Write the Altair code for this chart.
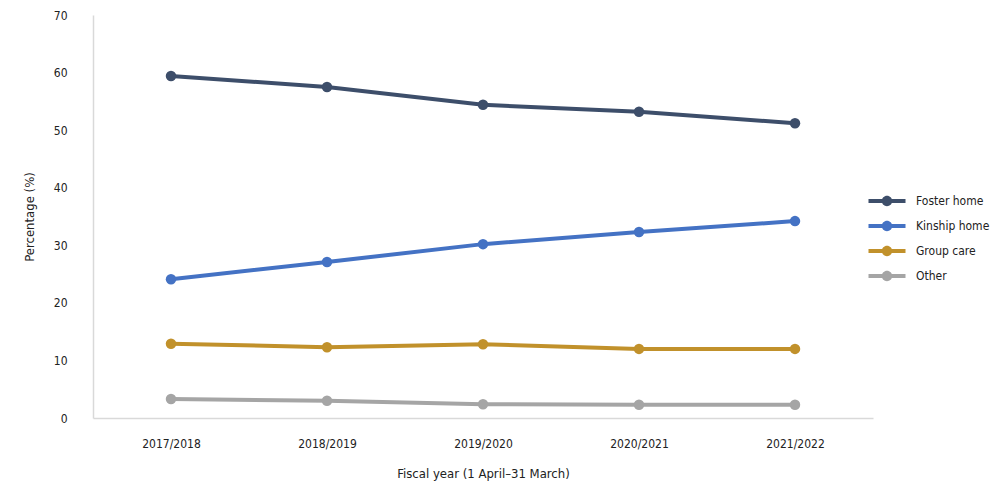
import altair as alt
import pandas as pd

years = ["2017/2018", "2018/2019", "2019/2020", "2020/2021", "2021/2022"]
series = ["Foster home", "Kinship home", "Group care", "Other"]
foster = [59.4, 57.5, 54.4, 53.2, 51.2]
kinship = [24.1, 27.1, 30.2, 32.3, 34.2]
group = [12.9, 12.3, 12.8, 12.0, 12.0]
other = [3.3, 3.0, 2.4, 2.3, 2.3]
colors = ["#3d4e6a", "#4472c4", "#c1912b", "#a5a5a5"]

rows = []
for name, vals in zip(series, [foster, kinship, group, other]):
    for y, v in zip(years, vals):
        rows.append({"year": y, "type": name, "value": v})
df = pd.DataFrame(rows)

FONT = "DejaVu Sans Condensed"
sym = ("M-1,-0.11H1V0.11H-1Z "
       "M-0.28,0A0.28,0.28 0 1,1 0.28,0A0.28,0.28 0 1,1 -0.28,0Z")

chart = alt.Chart(df).mark_line(
    strokeWidth=4,
    point=alt.OverlayMarkDef(filled=True, size=110, opacity=1),
).encode(
    x=alt.X("year:N", sort=years, scale=alt.Scale(paddingOuter=0.5),
            axis=alt.Axis(title="Fiscal year (1 April\u201331 March)", labelAngle=0,
                          ticks=False, labelPadding=20, titlePadding=18,
                          domainColor="#d9d9d9", domainWidth=1.5)),
    y=alt.Y("value:Q", scale=alt.Scale(domain=[0, 70]),
            axis=alt.Axis(title="Percentage (%)", values=list(range(0, 71, 10)),
                          ticks=False, grid=False, labelPadding=26, titlePadding=17,
                          domainColor="#d9d9d9", domainWidth=1.5)),
    color=alt.Color("type:N", scale=alt.Scale(domain=series, range=colors),
                    legend=alt.Legend(title=None, orient="none", legendX=775, legendY=167,
                                      symbolType=sym, symbolSize=1369,
                                      symbolStrokeWidth=0.01, symbolFillColor="#3d4e6a",
                                      labelOffset=10, rowPadding=-11)),
).properties(
    width=780, height=403,
    autosize=alt.AutoSizeParams(type="none"),
    padding={"left": 85, "top": 7, "right": 119, "bottom": 73},
).configure_view(stroke=None).configure_axis(
    labelFont=FONT, titleFont=FONT, labelFontSize=12, titleFontSize=13,
    labelColor="#222222", titleColor="#222222", titleFontWeight="normal",
).configure_legend(
    labelFont=FONT, labelFontSize=12, labelColor="#222222", labelLimit=200,
)

chart.save("out.html", embed_options={"renderer": "svg", "actions": False})
